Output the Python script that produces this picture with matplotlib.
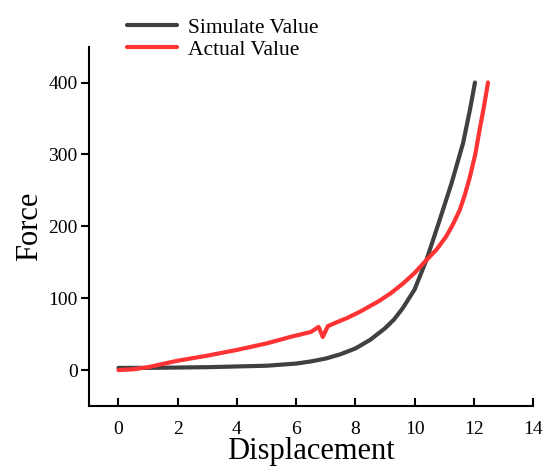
import numpy as np
import matplotlib.pyplot as plt

plt.rcParams['font.family'] = ['Liberation Serif', 'DejaVu Serif']

# simulated curve
sim_x = [0, 1, 2, 3, 4, 5, 6, 6.5, 7, 7.5, 8, 8.5, 9, 9.3, 9.6, 10, 10.4,
         10.85, 11.25, 11.64, 11.87, 12.04]
sim_f = [3, 3, 3.5, 4, 5, 6, 9, 12, 16, 22, 30, 42, 58, 70, 86, 112, 153,
         209, 260, 316, 362, 400]

# measured curve
act_x = [0, 0.5, 1, 2, 3, 4, 5, 5.8, 6.5, 6.76, 6.9, 7.07, 7.4, 7.7, 8.15,
         8.8, 9.2, 9.6, 10, 10.4, 10.75, 11.07, 11.3, 11.53, 11.7, 11.87,
         12.05, 12.2, 12.35, 12.48]
act_f = [0, 1, 4, 13, 20, 28, 37, 46, 53, 60, 46, 61, 67, 72, 81,
         96, 107, 120, 135, 153, 168, 186, 203, 223, 244, 269,
         300, 335, 368, 400]

x_ticks = [0, 2, 4, 6, 8, 10, 12, 14]
y_ticks = [0, 100, 200, 300, 400]

fig = plt.figure(figsize=(5.45, 4.68), dpi=100)
ax = fig.add_axes([0.163, 0.1325, 0.815, 0.768])

ax.plot(sim_x, sim_f, color='#404040', lw=3, label='Simulate Value',
        solid_capstyle='round')
ax.plot(act_x, act_f, color='#ff3333', lw=3, label='Actual Value',
        solid_capstyle='round')

ax.set_xlim(-1, 14)
ax.set_ylim(-50, 450)
ax.set_xticks(x_ticks)
ax.set_yticks(y_ticks)
ax.spines['top'].set_visible(False)
ax.spines['right'].set_visible(False)
ax.spines['left'].set_linewidth(1.5)
ax.spines['bottom'].set_linewidth(1.5)
ax.tick_params(axis='x', direction='in', length=6, width=1.5, labelsize=14, pad=11)
ax.tick_params(axis='y', direction='out', length=6, width=1.5, labelsize=14, pad=2)

ax.set_xlabel('Displacement', fontsize=22, labelpad=-1)
ax.set_ylabel('Force', fontsize=22, labelpad=3)

ax.legend(loc='upper left', bbox_to_anchor=(0.21, 0.99), bbox_transform=fig.transFigure,
          frameon=False, fontsize=15.5, handlelength=2.3, handletextpad=0.5,
          labelspacing=0.1, borderaxespad=0.2)

fig.savefig('out.png', dpi=100)
